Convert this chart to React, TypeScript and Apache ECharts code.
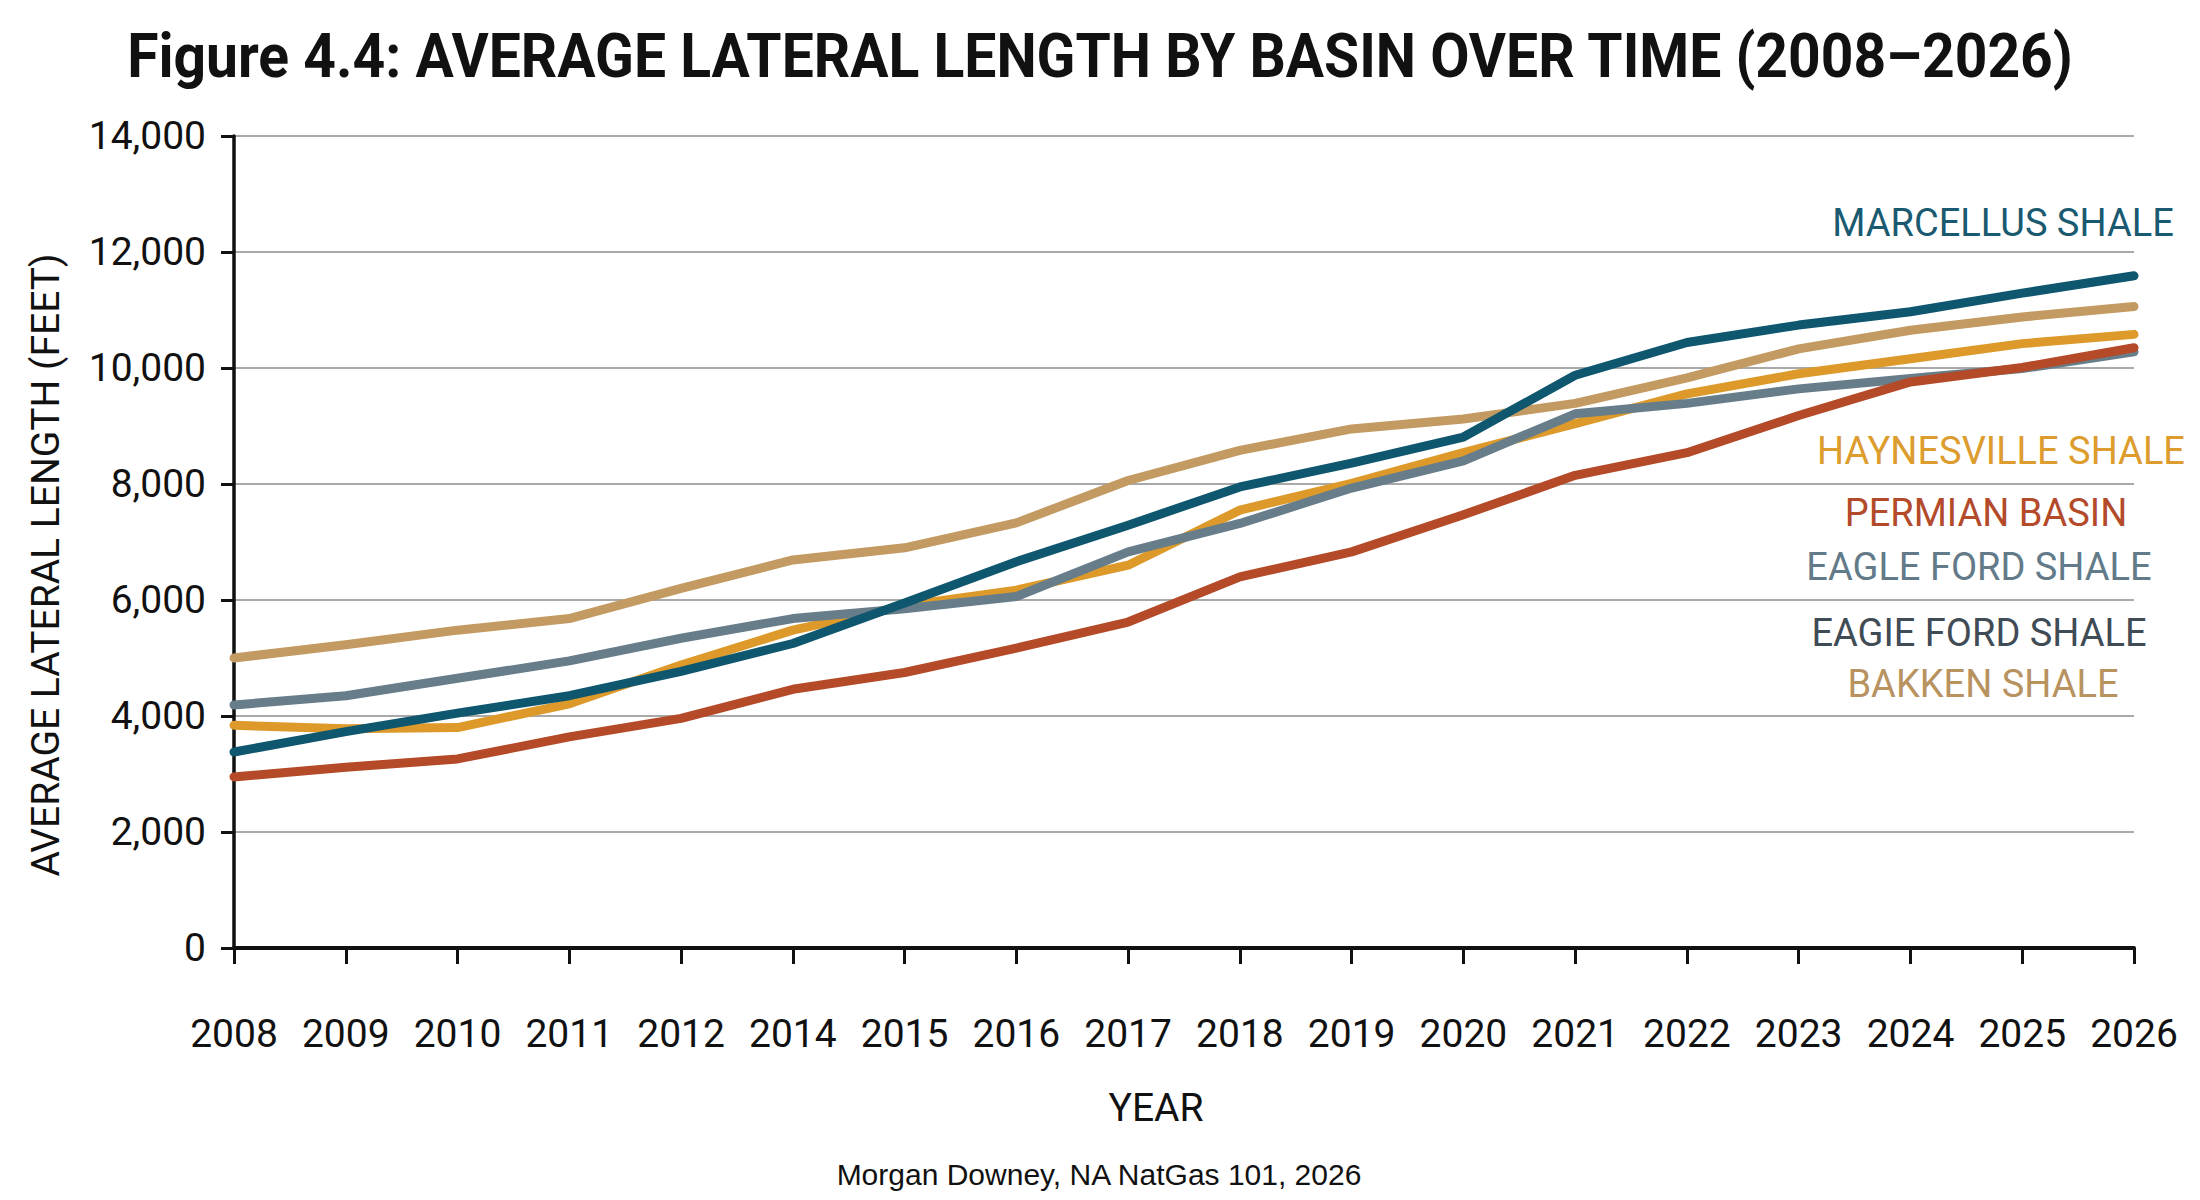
import React, { useEffect, useRef } from "react";
import * as echarts from "echarts";

const years = [
  "2008", "2009", "2010", "2011", "2012", "2014", "2015", "2016", "2017",
  "2018", "2019", "2020", "2021", "2022", "2023", "2024", "2025", "2026",
];

const bakken = [5000, 5230, 5480, 5680, 6200, 6690, 6900, 7330, 8060, 8580, 8950, 9120, 9390, 9830, 10330, 10650, 10880, 11060];
const haynesville = [3840, 3780, 3800, 4210, 4880, 5480, 5900, 6170, 6600, 7550, 8010, 8540, 9040, 9555, 9900, 10160, 10420, 10580];
const eagleFord = [4190, 4350, 4650, 4950, 5340, 5680, 5850, 6060, 6830, 7320, 7930, 8400, 9210, 9390, 9640, 9820, 9990, 10280];
const permian = [2950, 3115, 3260, 3640, 3960, 4460, 4750, 5170, 5620, 6400, 6830, 7470, 8150, 8540, 9180, 9760, 10010, 10350];
const marcellus = [3380, 3730, 4050, 4350, 4770, 5250, 5950, 6660, 7290, 7950, 8360, 8810, 9875, 10440, 10740, 10970, 11290, 11590];

const seriesNames = ["Bakken Shale", "Haynesville Shale", "Eagle Ford Shale", "Permian Basin", "Marcellus Shale"];
const seriesColors = ["#c29a62", "#dd9a2a", "#677d8a", "#b44a28", "#0f566f"];

const labelTexts = [
  "MARCELLUS SHALE",
  "HAYNESVILLE SHALE",
  "PERMIAN BASIN",
  "EAGLE FORD SHALE",
  "EAGIE FORD SHALE",
  "BAKKEN SHALE",
];
const labelColors = ["#1a5a70", "#dc9c2e", "#b34a2a", "#637a88", "#3f4b55", "#b8925f"];

const titleText = "Figure 4.4: AVERAGE LATERAL LENGTH BY BASIN OVER TIME (2008\u20132026)";
const yAxisTitle = "AVERAGE LATERAL LENGTH (FEET)";
const xAxisTitle = "YEAR";
const creditText = "Morgan Downey, NA NatGas 101, 2026";

export default function App() {
  const ref = useRef<HTMLDivElement>(null);

  useEffect(() => {
    if (!ref.current) return;
    const chart = echarts.init(ref.current, undefined, { renderer: "svg" });
    const dataSets = [bakken, haynesville, eagleFord, permian, marcellus];

    const labelPos = [
      [2003, 223],
      [2001, 451],
      [1986, 513],
      [1979, 567],
      [1979, 633],
      [1983, 684],
    ];

    const option: any = {
      animation: false,
      backgroundColor: "#ffffff",
      grid: { left: 234, right: 66, top: 136, bottom: 252, containLabel: false },
      xAxis: {
        type: "category",
        data: years,
        boundaryGap: false,
        axisLine: { show: true, lineStyle: { color: "#111", width: 4 } },
        axisTick: { show: true, alignWithLabel: true, length: 16, lineStyle: { color: "#111", width: 3 } },
        axisLabel: {
          color: "#111",
          fontFamily: "Roboto",
          fontSize: 39,
          margin: 66,
          interval: 0,
        },
        splitLine: { show: false },
      },
      yAxis: {
        type: "value",
        min: 0,
        max: 14000,
        interval: 2000,
        axisLine: { show: true, lineStyle: { color: "#111", width: 3.5 } },
        axisTick: { show: true, length: 13, lineStyle: { color: "#111", width: 3 } },
        axisLabel: {
          color: "#111",
          fontFamily: "Roboto",
          fontSize: 39,
          margin: 28,
          formatter: (v: number) => v.toLocaleString("en-US"),
        },
        splitLine: { show: true, lineStyle: { color: "#a9a9a9", width: 2 } },
      },
      series: dataSets.map((d, i) => ({
        name: seriesNames[i],
        type: "line",
        data: d,
        symbol: "none",
        z: 2 + i,
        lineStyle: { width: 9, color: seriesColors[i], cap: "round", join: "round" },
      })),
      graphic: [
        {
          type: "text",
          x: 1100,
          y: 56,
          scaleY: 1.06,
          style: {
            text: titleText,
            font: "bold 57px Roboto",
            fill: "#111",
            textAlign: "center",
            textVerticalAlign: "middle",
          },
        },
        {
          type: "text",
          x: 46,
          y: 565,
          rotation: Math.PI / 2,
          style: {
            text: yAxisTitle,
            font: "39px Roboto",
            fill: "#111",
            textAlign: "center",
            textVerticalAlign: "middle",
          },
        },
        {
          type: "text",
          x: 1156,
          y: 1108,
          style: {
            text: xAxisTitle,
            font: "39px Roboto",
            fill: "#111",
            textAlign: "center",
            textVerticalAlign: "middle",
          },
        },
        {
          type: "text",
          x: 1099,
          y: 1174,
          style: {
            text: creditText,
            font: "30px 'Liberation Sans', Arial, sans-serif",
            fill: "#111",
            textAlign: "center",
            textVerticalAlign: "middle",
          },
        },
        ...labelTexts.map((t, i) => ({
          type: "text",
          x: labelPos[i][0],
          y: labelPos[i][1],
          z: 20,
          style: {
            text: t,
            font: "38px Roboto",
            fill: labelColors[i],
            textAlign: "center",
            textVerticalAlign: "middle",
          },
        })),
      ],
    };

    chart.setOption(option);
    return () => chart.dispose();
  }, []);

  return (
    <div
      ref={ref}
      style={{ position: "absolute", left: 0, top: 0, width: 2200, height: 1200 }}
    />
  );
}
